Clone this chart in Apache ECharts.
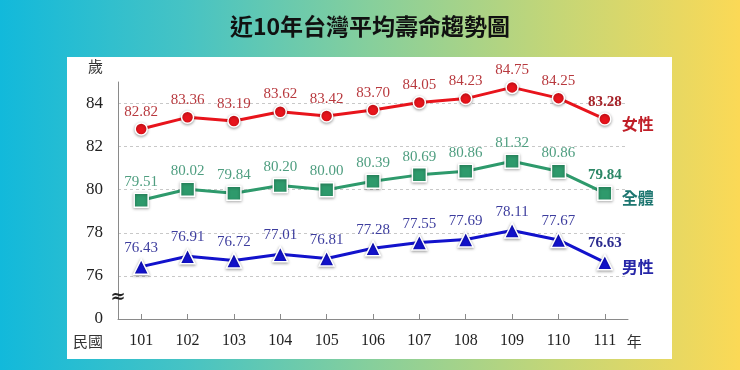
<!DOCTYPE html>
<html><head><meta charset="utf-8">
<script src="https://cdn.jsdelivr.net/npm/echarts@6/dist/echarts.min.js"></script>
<style>
html,body{margin:0;padding:0;}
body{width:740px;height:370px;background:linear-gradient(90deg,#12b9db 0%,#46c3c4 25%,#86cf9c 50%,#c4d677 75%,#fbd956 100%);}
#c{width:740px;height:370px;}
</style></head>
<body><div id="c"></div>
<script>
const years = ['101','102','103','104','105','106','107','108','109','110','111'];
const female = [82.82, 83.36, 83.19, 83.62, 83.42, 83.70, 84.05, 84.23, 84.75, 84.25, 83.28];
const total  = [79.51, 80.02, 79.84, 80.20, 80.00, 80.39, 80.69, 80.86, 81.32, 80.86, 79.84];
const male   = [76.43, 76.91, 76.72, 77.01, 76.81, 77.28, 77.55, 77.69, 78.11, 77.67, 76.63];
const seriesNames = ['女性','全體','男性'];
const yBreakValue = 74; // shown as 0 (axis break)

const serif = 'Liberation Serif, DejaVu Serif, serif';
const cjk = 'Noto Sans CJK TC, Noto Sans CJK SC, sans-serif';

function mk(name, vals, lineColor, labelColor, boldColor, endColor, symbol, size) {
  const last = vals.length - 1;
  return {
    name: name, type: 'line', data: vals.map((v, i) => i === last ? {value: v, label: {fontWeight: 'bold', color: boldColor}} : v),
    symbol: symbol, symbolSize: size,
    lineStyle: {color: lineColor, width: 3},
    itemStyle: {color: lineColor, borderColor: '#fff', borderWidth: 1.5, shadowBlur: 3, shadowColor: 'rgba(0,0,0,0.35)', shadowOffsetY: 1},
    label: {show: true, position: 'top', distance: 3, color: labelColor, fontFamily: serif, fontSize: 15,
      formatter: p => p.value.toFixed(2)},
    endLabel: {show: true, formatter: '{a}', color: endColor, fontFamily: cjk, fontSize: 16, fontWeight: 'bold', distance: 17, offset: [0, 5]},
    animation: false
  };
}

const chart = echarts.init(document.getElementById('c'), null, {renderer: 'canvas'});
chart.setOption({
  animation: false,
  title: {text: '近10年台灣平均壽命趨勢圖', left: 'center', top: 10,
    textStyle: {fontSize: 23, fontWeight: 'bold', fontFamily: cjk, color: '#111'}},
  grid: {left: 118, right: 112, top: 82, bottom: 51},
  xAxis: {
    type: 'category', data: years, boundaryGap: true,
    axisLine: {lineStyle: {color: '#8a8a8a', width: 1}},
    axisTick: {show: true, inside: true, alignWithLabel: true, length: 5, lineStyle: {color: '#8a8a8a'}},
    axisLabel: {color: '#222', fontFamily: serif, fontSize: 16, margin: 14}
  },
  yAxis: {
    type: 'value', min: 74, max: 85, interval: 2,
    axisLine: {show: true, lineStyle: {color: '#8a8a8a'}},
    axisTick: {show: false},
    axisLabel: {color: '#222', fontFamily: serif, fontSize: 17, margin: 15, showMaxLabel: false,
      formatter: v => v === yBreakValue ? '0' : (v > 84 ? '' : String(v))},
    splitLine: {show: true, showMinLine: false, showMaxLine: false, lineStyle: {color: '#c8c8c8', type: [3, 3]}},
    name: '歲', nameLocation: 'end', nameGap: 8,
    nameTextStyle: {color: '#333', fontFamily: cjk, fontSize: 15, align: 'right', padding: [0, 15, 0, 0]}
  },
  graphic: [
    {type: 'rect', z: -10, shape: {x: 67, y: 57, width: 605, height: 302}, style: {fill: '#fff'}}
  ],
  series: [
    mk(seriesNames[0], female, '#e8141c', '#b8393e', '#a6242a', '#c01f28', 'circle', 12),
    mk(seriesNames[1], total, '#2e9a6c', '#4f9e80', '#2c8766', '#1d7670', 'rect', 14),
    mk(seriesNames[2], male, '#1212cc', '#3d3d9e', '#2b2b8f', '#2626a8', 'triangle', 15)
  ]
});

// decorations placed through the axes
const x0 = chart.convertToPixel({xAxisIndex: 0}, years[0]);
const x1 = chart.convertToPixel({xAxisIndex: 0}, years[1]);
const xl = chart.convertToPixel({xAxisIndex: 0}, years[years.length - 1]);
const band = x1 - x0;
const axisX = x0 - band / 2;
const yBreak = chart.convertToPixel({yAxisIndex: 0}, 75);
const yBase = chart.convertToPixel({yAxisIndex: 0}, 74);
chart.setOption({
  graphic: [
    {type: 'rect', z: -10, shape: {x: 67, y: 57, width: 605, height: 302}, style: {fill: '#fff'}},
    {type: 'text', z: 10, x: axisX, y: yBreak, style: {text: '≈', fontSize: 18, fontWeight: 'bold', fontFamily: 'DejaVu Sans', fill: '#222', align: 'center', verticalAlign: 'middle'}},
    {type: 'text', z: 10, x: axisX - 15, y: yBase + 22, style: {text: '民國', fontSize: 15, fontFamily: cjk, fill: '#333', align: 'right', verticalAlign: 'middle'}},
    {type: 'text', z: 10, x: xl + 22, y: yBase + 22, style: {text: '年', fontSize: 15, fontFamily: cjk, fill: '#333', align: 'left', verticalAlign: 'middle'}}
  ]
});
</script>
</body></html>
